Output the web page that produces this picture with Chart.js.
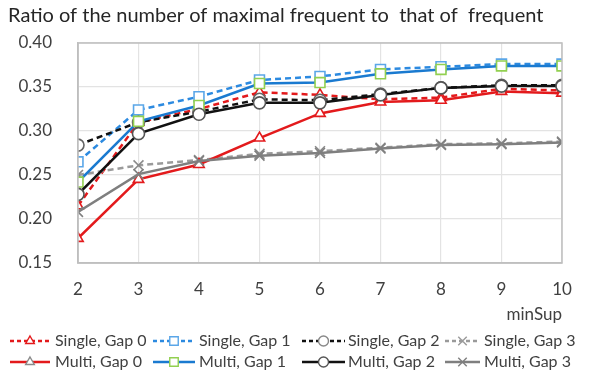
<!DOCTYPE html>
<html>
<head>
<meta charset="utf-8">
<script src="https://cdn.jsdelivr.net/npm/chart.js@4/dist/chart.umd.min.js"></script>
<style>
  html, body { margin: 0; padding: 0; background: #ffffff; }
  #wrap { width: 595px; height: 376px; position: relative; }
</style>
</head>
<body>
<div id="wrap"><canvas id="c" width="595" height="376"></canvas></div>
<script>
const titleText = "Ratio of the number of maximal frequent to  that of  frequent";
const xTitle = "minSup";
const minSup = [2, 3, 4, 5, 6, 7, 8, 9, 10];
const yTicks = [0.15, 0.20, 0.25, 0.30, 0.35, 0.40];

const seriesNames = [
  "Single, Gap 0", "Single, Gap 1", "Single, Gap 2", "Single, Gap 3",
  "Multi, Gap 0", "Multi, Gap 1", "Multi, Gap 2", "Multi, Gap 3"
];
const singleGap0 = [0.215, 0.310, 0.325, 0.344, 0.341, 0.336, 0.338, 0.348, 0.346];
const singleGap1 = [0.265, 0.324, 0.339, 0.358, 0.362, 0.370, 0.373, 0.376, 0.376];
const singleGap2 = [0.284, 0.310, 0.322, 0.336, 0.335, 0.342, 0.349, 0.352, 0.352];
const singleGap3 = [0.250, 0.261, 0.267, 0.274, 0.277, 0.281, 0.285, 0.286, 0.288];
const multiGap0  = [0.178, 0.245, 0.262, 0.292, 0.320, 0.333, 0.335, 0.345, 0.343];
const multiGap1  = [0.242, 0.311, 0.329, 0.354, 0.355, 0.365, 0.370, 0.374, 0.374];
const multiGap2  = [0.228, 0.297, 0.319, 0.332, 0.332, 0.341, 0.349, 0.351, 0.351];
const multiGap3  = [0.208, 0.251, 0.266, 0.272, 0.275, 0.280, 0.284, 0.285, 0.287];
const seriesValues = [singleGap0, singleGap1, singleGap2, singleGap3, multiGap0, multiGap1, multiGap2, multiGap3];

const FONT = "Lato, 'Open Sans', sans-serif";
const TEXT = "#404040";

const styles = [
  { line: "#e31a1c", dash: [6, 4], marker: "triangle", mColor: "#e31a1c", legendM: "#e31a1c", r: 6 },
  { line: "#2c8ae0", dash: [6, 4], marker: "rect", mColor: "#5aa6e8", legendM: "#5aa6e8", r: 7 },
  { line: "#111111", dash: [6, 4], marker: "circle", mColor: "#666666", legendM: "#888888", r: 6 },
  { line: "#9a9a9a", dash: [6, 4], marker: "crossRot", mColor: "#8a8a8a", legendM: "#9a9a9a", r: 7 },
  { line: "#e31a1c", dash: [], marker: "triangle", mColor: "#e31a1c", legendM: "#8a8a8a", r: 6 },
  { line: "#1a7ad0", dash: [], marker: "rect", mColor: "#92d050", legendM: "#92d050", r: 7 },
  { line: "#111111", dash: [], marker: "circle", mColor: "#555555", legendM: "#555555", r: 6 },
  { line: "#7f7f7f", dash: [], marker: "crossRot", mColor: "#7f7f7f", legendM: "#7f7f7f", r: 7 }
];

const datasets = seriesNames.map((name, i) => ({
  label: name,
  data: minSup.map((x, j) => ({ x: x, y: seriesValues[i][j] })),
  borderColor: styles[i].line,
  borderDash: styles[i].dash,
  borderWidth: 2.5,
  pointStyle: styles[i].marker,
  pointRadius: styles[i].r,
  pointBorderColor: styles[i].mColor,
  pointBackgroundColor: "#ffffff",
  pointBorderWidth: 1.6,
  tension: 0,
  fill: false,
  order: 8 - i
}));

const legendCols = [
  { lx: 10, len: 40, tx: 55 },
  { lx: 153, len: 42, tx: 199 },
  { lx: 302, len: 43, tx: 348 },
  { lx: 445, len: 35, tx: 484 }
];
const legendRows = [341, 362];

const decor = {
  id: "decor",
  afterDraw(chart) {
    const ctx = chart.ctx;
    const a = chart.chartArea;
    ctx.save();
    ctx.strokeStyle = "#bfbfbf";
    ctx.lineWidth = 1.5;
    ctx.strokeRect(a.left, a.top, a.right - a.left, a.bottom - a.top);
    ctx.fillStyle = "#262626";
    ctx.font = "20px " + FONT;
    ctx.textAlign = "left";
    ctx.textBaseline = "middle";
    ctx.fillText(titleText, 8, 16);
    ctx.font = "16px " + FONT;
    seriesNames.forEach((name, i) => {
      const col = legendCols[i % 4];
      const y = legendRows[Math.floor(i / 4)];
      const s = styles[i];
      ctx.save();
      ctx.strokeStyle = s.line;
      ctx.lineWidth = 2.5;
      ctx.setLineDash(s.dash.length ? [4, 3] : []);
      ctx.beginPath();
      ctx.moveTo(col.lx, y);
      ctx.lineTo(col.lx + col.len, y);
      ctx.stroke();
      ctx.setLineDash([]);
      ctx.strokeStyle = s.legendM;
      ctx.fillStyle = "#ffffff";
      ctx.lineWidth = 1.4;
      Chart.helpers.drawPoint(ctx, { pointStyle: s.marker, radius: s.r - 1, rotation: 0, borderWidth: 1.4 }, col.lx + col.len / 2, y);
      ctx.restore();
      ctx.fillStyle = TEXT;
      ctx.textAlign = "left";
      ctx.textBaseline = "middle";
      ctx.fillText(name, col.tx, y);
    });
    ctx.restore();
  }
};

new Chart(document.getElementById("c"), {
  type: "line",
  data: { datasets: datasets },
  plugins: [decor],
  options: {
    responsive: false,
    animation: false,
    layout: { padding: { top: 43, right: 33, bottom: 50, left: 0 } },
    plugins: { legend: { display: false }, title: { display: false }, tooltip: { enabled: false } },
    scales: {
      x: {
        type: "linear",
        min: 2, max: 10,
        afterBuildTicks(scale) { scale.ticks = minSup.map(v => ({ value: v })); },
        afterFit(scale) { scale.height = 63; },
        grid: { color: "#e3e3e3", lineWidth: 1.2, drawTicks: false, tickLength: 0 },
        border: { color: "#bfbfbf", width: 1.5 },
        ticks: { color: TEXT, font: { family: FONT, size: 17 }, padding: 16, maxRotation: 0 },
        title: { display: true, text: xTitle, align: "end", color: TEXT, font: { family: FONT, size: 17 }, padding: { top: 0, bottom: 1 } }
      },
      y: {
        min: 0.15, max: 0.40,
        afterBuildTicks(scale) { scale.ticks = yTicks.map(v => ({ value: v })); },
        afterFit(scale) { scale.width = 78; },
        grid: { color: "#e3e3e3", lineWidth: 1.2, drawTicks: false, tickLength: 0 },
        border: { color: "#bfbfbf", width: 1.5 },
        ticks: { color: TEXT, font: { family: FONT, size: 17 }, padding: 26, callback: v => Number(v).toFixed(2) }
      }
    }
  }
});
</script>
</body>
</html>
